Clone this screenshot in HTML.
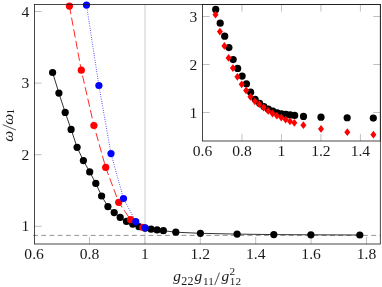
<!DOCTYPE html>
<html><head><meta charset="utf-8"><title>plot</title>
<style>
html,body{margin:0;padding:0;background:#fff;}
body{width:382px;height:287px;overflow:hidden;font-family:"Liberation Serif",serif;}
svg{display:block;will-change:transform;}
text{font-family:"Liberation Serif",serif;fill:#1a1a1a;}
</style></head><body>
<svg width="382" height="287" viewBox="0 0 382 287">
<rect width="382" height="287" fill="#fff"/>

<line x1="89.5" y1="244" x2="89.5" y2="236.9" stroke="#808080" stroke-width="0.5"/>
<line x1="144.9" y1="244" x2="144.9" y2="236.9" stroke="#808080" stroke-width="0.5"/>
<line x1="200.3" y1="244" x2="200.3" y2="236.9" stroke="#808080" stroke-width="0.5"/>
<line x1="255.7" y1="244" x2="255.7" y2="236.9" stroke="#808080" stroke-width="0.5"/>
<line x1="311.1" y1="244" x2="311.1" y2="236.9" stroke="#808080" stroke-width="0.5"/>
<line x1="366.5" y1="244" x2="366.5" y2="236.9" stroke="#808080" stroke-width="0.5"/>
<line x1="34.5" y1="11.5" x2="41.6" y2="11.5" stroke="#808080" stroke-width="0.5"/>
<line x1="34.5" y1="83.1" x2="41.6" y2="83.1" stroke="#808080" stroke-width="0.5"/>
<line x1="34.5" y1="154.7" x2="41.6" y2="154.7" stroke="#808080" stroke-width="0.5"/>
<line x1="34.5" y1="226.3" x2="41.6" y2="226.3" stroke="#808080" stroke-width="0.5"/>
<line x1="145" y1="4.5" x2="145" y2="244" stroke="#cbcbcb" stroke-width="1"/>
<line x1="32.96" y1="235.4" x2="380.3" y2="235.4" stroke="#666" stroke-width="0.7" stroke-dasharray="4.9 3.35"/>
<polyline points="52.6,72.5 58.9,93.1 65.2,112.4 71.1,129.4 77.1,147.3 83.4,160.6 89.7,171.9 95.8,183.4 101.6,196 107.9,206.6 114.2,212.6 120.2,217.4 126.5,221.4 132.8,224.2 139,226.7 145.1,228.2 151.1,229.2 157.1,229.9 163.4,230.7 175.8,232.2 200.4,233.3 237.1,234.1 273.8,234.6 310.9,234.8 359.8,235" fill="none" stroke="#000" stroke-width="0.8"/>
<circle cx="52.6" cy="72.5" r="3.6" fill="#000"/>
<circle cx="58.9" cy="93.1" r="3.6" fill="#000"/>
<circle cx="65.2" cy="112.4" r="3.6" fill="#000"/>
<circle cx="71.1" cy="129.4" r="3.6" fill="#000"/>
<circle cx="77.1" cy="147.3" r="3.6" fill="#000"/>
<circle cx="83.4" cy="160.6" r="3.6" fill="#000"/>
<circle cx="89.7" cy="171.9" r="3.6" fill="#000"/>
<circle cx="95.8" cy="183.4" r="3.6" fill="#000"/>
<circle cx="101.6" cy="196" r="3.6" fill="#000"/>
<circle cx="107.9" cy="206.6" r="3.6" fill="#000"/>
<circle cx="114.2" cy="212.6" r="3.6" fill="#000"/>
<circle cx="120.2" cy="217.4" r="3.6" fill="#000"/>
<circle cx="126.5" cy="221.4" r="3.6" fill="#000"/>
<circle cx="132.8" cy="224.2" r="3.6" fill="#000"/>
<circle cx="139" cy="226.7" r="3.6" fill="#000"/>
<circle cx="145.1" cy="228.2" r="3.6" fill="#000"/>
<circle cx="151.1" cy="229.2" r="3.6" fill="#000"/>
<circle cx="157.1" cy="229.9" r="3.6" fill="#000"/>
<circle cx="163.4" cy="230.7" r="3.6" fill="#000"/>
<circle cx="175.8" cy="232.2" r="3.6" fill="#000"/>
<circle cx="200.4" cy="233.3" r="3.6" fill="#000"/>
<circle cx="237.1" cy="234.1" r="3.6" fill="#000"/>
<circle cx="273.8" cy="234.6" r="3.6" fill="#000"/>
<circle cx="310.9" cy="234.8" r="3.6" fill="#000"/>
<circle cx="359.8" cy="235" r="3.6" fill="#000"/>
<polyline points="69.4,6.1 81.3,70.2 93.9,125.5 105.7,167.4 118.7,202.3 130.5,219.6 142.8,227.4" fill="none" stroke="#f00" stroke-width="0.85" stroke-dasharray="8.3 3.5"/>
<circle cx="69.4" cy="6.1" r="3.6" fill="#f00"/>
<circle cx="81.3" cy="70.2" r="3.6" fill="#f00"/>
<circle cx="93.9" cy="125.5" r="3.6" fill="#f00"/>
<circle cx="105.7" cy="167.4" r="3.6" fill="#f00"/>
<circle cx="118.7" cy="202.3" r="3.6" fill="#f00"/>
<circle cx="130.5" cy="219.6" r="3.6" fill="#f00"/>
<circle cx="142.8" cy="227.4" r="3.6" fill="#f00"/>
<polyline points="86.5,5.1 98.9,85.5 111,153.6 123.5,198.5 135.8,221.6 145.1,227.8" fill="none" stroke="#00f" stroke-width="0.85" stroke-dasharray="0.75 1.56"/>
<circle cx="86.5" cy="5.1" r="3.6" fill="#00f"/>
<circle cx="98.9" cy="85.5" r="3.6" fill="#00f"/>
<circle cx="111" cy="153.6" r="3.6" fill="#00f"/>
<circle cx="123.5" cy="198.5" r="3.6" fill="#00f"/>
<circle cx="135.8" cy="221.6" r="3.6" fill="#00f"/>
<circle cx="145.1" cy="227.8" r="3.6" fill="#00f"/>
<rect x="34.5" y="4.5" width="345.8" height="239.5" fill="none" stroke="#1a1a1a" stroke-width="0.8"/>
<rect x="188.5" y="5" width="191.3" height="154.5" fill="#fff"/>
<line x1="241.97" y1="141" x2="241.97" y2="133.9" stroke="#808080" stroke-width="0.5"/>
<line x1="241.97" y1="4.5" x2="241.97" y2="11.6" stroke="#808080" stroke-width="0.5"/>
<line x1="281.45" y1="141" x2="281.45" y2="133.9" stroke="#808080" stroke-width="0.5"/>
<line x1="281.45" y1="4.5" x2="281.45" y2="11.6" stroke="#808080" stroke-width="0.5"/>
<line x1="320.93" y1="141" x2="320.93" y2="133.9" stroke="#808080" stroke-width="0.5"/>
<line x1="320.93" y1="4.5" x2="320.93" y2="11.6" stroke="#808080" stroke-width="0.5"/>
<line x1="360.4" y1="141" x2="360.4" y2="133.9" stroke="#808080" stroke-width="0.5"/>
<line x1="360.4" y1="4.5" x2="360.4" y2="11.6" stroke="#808080" stroke-width="0.5"/>
<line x1="202.5" y1="16.5" x2="209.6" y2="16.5" stroke="#808080" stroke-width="0.5"/>
<line x1="380.3" y1="16.5" x2="373.2" y2="16.5" stroke="#808080" stroke-width="0.5"/>
<line x1="202.5" y1="64.5" x2="209.6" y2="64.5" stroke="#808080" stroke-width="0.5"/>
<line x1="380.3" y1="64.5" x2="373.2" y2="64.5" stroke="#808080" stroke-width="0.5"/>
<line x1="202.5" y1="112.5" x2="209.6" y2="112.5" stroke="#808080" stroke-width="0.5"/>
<line x1="380.3" y1="112.5" x2="373.2" y2="112.5" stroke="#808080" stroke-width="0.5"/>
<circle cx="215.71" cy="9.39" r="3.6" fill="#000"/>
<circle cx="220.2" cy="23.2" r="3.6" fill="#000"/>
<circle cx="224.69" cy="36.14" r="3.6" fill="#000"/>
<circle cx="228.89" cy="47.54" r="3.6" fill="#000"/>
<circle cx="233.17" cy="59.54" r="3.6" fill="#000"/>
<circle cx="237.65" cy="68.46" r="3.6" fill="#000"/>
<circle cx="242.14" cy="76.03" r="3.6" fill="#000"/>
<circle cx="246.49" cy="83.74" r="3.6" fill="#000"/>
<circle cx="250.62" cy="92.19" r="3.6" fill="#000"/>
<circle cx="255.11" cy="99.29" r="3.6" fill="#000"/>
<circle cx="259.6" cy="103.32" r="3.6" fill="#000"/>
<circle cx="263.87" cy="106.53" r="3.6" fill="#000"/>
<circle cx="268.36" cy="109.22" r="3.6" fill="#000"/>
<circle cx="272.85" cy="111.09" r="3.6" fill="#000"/>
<circle cx="277.27" cy="112.77" r="3.6" fill="#000"/>
<circle cx="281.61" cy="113.77" r="3.6" fill="#000"/>
<circle cx="285.89" cy="114.44" r="3.6" fill="#000"/>
<circle cx="290.16" cy="114.91" r="3.6" fill="#000"/>
<circle cx="294.65" cy="115.45" r="3.6" fill="#000"/>
<circle cx="303.48" cy="116.46" r="3.6" fill="#000"/>
<circle cx="321.01" cy="117.19" r="3.6" fill="#000"/>
<circle cx="347.16" cy="117.73" r="3.6" fill="#000"/>
<circle cx="373.31" cy="118.06" r="3.6" fill="#000"/>
<path d="M215.5 10.8L218.5 14.7L215.5 18.6L212.5 14.7Z" fill="#f00"/>
<path d="M219.9 27.7L222.9 31.6L219.9 35.5L216.9 31.6Z" fill="#f00"/>
<path d="M224.4 42L227.4 45.9L224.4 49.8L221.4 45.9Z" fill="#f00"/>
<path d="M228.6 54L231.6 57.9L228.6 61.8L225.6 57.9Z" fill="#f00"/>
<path d="M232.9 64.2L235.9 68.1L232.9 72L229.9 68.1Z" fill="#f00"/>
<path d="M237.4 72.9L240.4 76.8L237.4 80.7L234.4 76.8Z" fill="#f00"/>
<path d="M241.7 80.4L244.7 84.3L241.7 88.2L238.7 84.3Z" fill="#f00"/>
<path d="M246.1 86.5L249.1 90.4L246.1 94.3L243.1 90.4Z" fill="#f00"/>
<path d="M250.4 92.9L253.4 96.8L250.4 100.7L247.4 96.8Z" fill="#f00"/>
<path d="M254.9 97.4L257.9 101.3L254.9 105.2L251.9 101.3Z" fill="#f00"/>
<path d="M259.3 100.3L262.3 104.2L259.3 108.1L256.3 104.2Z" fill="#f00"/>
<path d="M263.7 103.6L266.7 107.5L263.7 111.4L260.7 107.5Z" fill="#f00"/>
<path d="M268.2 107L271.2 110.9L268.2 114.8L265.2 110.9Z" fill="#f00"/>
<path d="M272.5 109.6L275.5 113.5L272.5 117.4L269.5 113.5Z" fill="#f00"/>
<path d="M276.9 111.8L279.9 115.7L276.9 119.6L273.9 115.7Z" fill="#f00"/>
<path d="M281.3 113.7L284.3 117.6L281.3 121.5L278.3 117.6Z" fill="#f00"/>
<path d="M285.6 115.7L288.6 119.6L285.6 123.5L282.6 119.6Z" fill="#f00"/>
<path d="M290 117.4L293 121.3L290 125.2L287 121.3Z" fill="#f00"/>
<path d="M294.3 118.9L297.3 122.8L294.3 126.7L291.3 122.8Z" fill="#f00"/>
<path d="M303.4 121.3L306.4 125.2L303.4 129.1L300.4 125.2Z" fill="#f00"/>
<path d="M321 125L324 128.9L321 132.8L318 128.9Z" fill="#f00"/>
<path d="M347.3 128.3L350.3 132.2L347.3 136.1L344.3 132.2Z" fill="#f00"/>
<path d="M373.4 130.8L376.4 134.7L373.4 138.6L370.4 134.7Z" fill="#f00"/>
<rect x="202.5" y="4.5" width="177.8" height="136.5" fill="none" stroke="#1a1a1a" stroke-width="0.8"/>
<text x="34.1" y="259.4" font-size="15.6" text-anchor="middle">0.6</text>
<text x="89.5" y="259.4" font-size="15.6" text-anchor="middle">0.8</text>
<text x="144.9" y="259.4" font-size="15.6" text-anchor="middle">1</text>
<text x="200.3" y="259.4" font-size="15.6" text-anchor="middle">1.2</text>
<text x="255.7" y="259.4" font-size="15.6" text-anchor="middle">1.4</text>
<text x="311.1" y="259.4" font-size="15.6" text-anchor="middle">1.6</text>
<text x="366.5" y="259.4" font-size="15.6" text-anchor="middle">1.8</text>
<text x="29.4" y="16.5" font-size="15.6" text-anchor="end">4</text>
<text x="29.4" y="88.1" font-size="15.6" text-anchor="end">3</text>
<text x="29.4" y="159.7" font-size="15.6" text-anchor="end">2</text>
<text x="29.4" y="231.3" font-size="15.6" text-anchor="end">1</text>
<text x="202.5" y="156.4" font-size="15.6" text-anchor="middle">0.6</text>
<text x="241.97" y="156.4" font-size="15.6" text-anchor="middle">0.8</text>
<text x="281.45" y="156.4" font-size="15.6" text-anchor="middle">1</text>
<text x="320.93" y="156.4" font-size="15.6" text-anchor="middle">1.2</text>
<text x="360.4" y="156.4" font-size="15.6" text-anchor="middle">1.4</text>
<text x="197.3" y="21.5" font-size="15.6" text-anchor="end">3</text>
<text x="197.3" y="69.5" font-size="15.6" text-anchor="end">2</text>
<text x="197.3" y="117.5" font-size="15.6" text-anchor="end">1</text>
<text x="173.2" y="281.3" font-size="15.4" font-style="italic">g</text>
<text x="181.2" y="284.5" font-size="12.0" letter-spacing="0.4">22</text>
<text x="194.5" y="281.3" font-size="15.4" font-style="italic">g</text>
<text x="203" y="284.5" font-size="11.2">11</text>
<text x="221.5" y="281.3" font-size="15.4" font-style="italic">g</text>
<text x="229.6" y="275.3" font-size="11.2">2</text>
<text x="229.8" y="284.5" font-size="11.2">12</text>
<line x1="214.7" y1="285.1" x2="219.5" y2="272.6" stroke="#1a1a1a" stroke-width="0.75"/>
<text transform="translate(12.5,141.8) rotate(-90)" font-size="15.4" font-style="italic">ω</text>
<text transform="translate(12.5,124.8) rotate(-90)" font-size="15.4" font-style="italic">ω</text>
<text transform="translate(14,114.5) rotate(-90)" font-size="11.2">1</text>
<line x1="15.9" y1="130" x2="2.7" y2="124.6" stroke="#1a1a1a" stroke-width="0.75"/>
</svg></body></html>
